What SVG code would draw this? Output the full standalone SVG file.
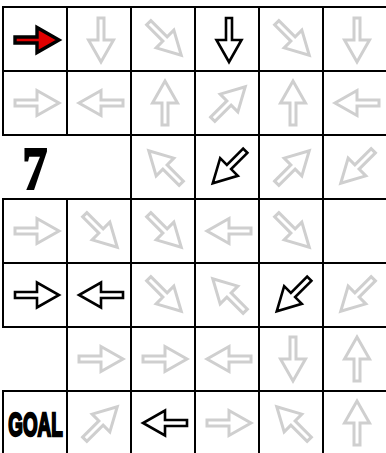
<svg xmlns="http://www.w3.org/2000/svg" xmlns:xlink="http://www.w3.org/1999/xlink" width="386" height="453" viewBox="0 0 386 453">
<style>
.cell{fill:#fff;stroke:#000;stroke-width:2}
.g{fill:#fff;stroke:#cfcfcf;stroke-width:3;stroke-linejoin:miter}
.b{fill:#fff;stroke:#000;stroke-width:2.6;stroke-linejoin:miter}
.r{fill:#e00000;stroke:#000;stroke-width:3.4;stroke-linejoin:miter}
.t7{font-family:"Liberation Serif",serif;font-weight:bold;font-size:62px;fill:#000;stroke:#000;stroke-width:2.2}
.goal{font-family:"Liberation Sans",Arial,sans-serif;font-weight:bold;font-size:33px;fill:#000;stroke:#000;stroke-width:2.4}
</style>
<defs>
<path id="a" d="M-22,-3 H0 V-12.5 L22,0 L0,12.5 V3 H-22 Z"/>
<path id="d" d="M-23,-3 H0 V-12.5 L23,0 L0,12.5 V3 H-23 Z"/>
</defs>
<rect width="386" height="453" fill="#fff"/>
<g id="grid">
<rect class="cell" x="3" y="7" width="64" height="64"/><rect class="cell" x="67" y="7" width="64" height="64"/><rect class="cell" x="131" y="7" width="64" height="64"/><rect class="cell" x="195" y="7" width="64" height="64"/><rect class="cell" x="259" y="7" width="64" height="64"/><rect class="cell" x="323" y="7" width="64" height="64"/>
<rect class="cell" x="3" y="71" width="64" height="64"/><rect class="cell" x="67" y="71" width="64" height="64"/><rect class="cell" x="131" y="71" width="64" height="64"/><rect class="cell" x="195" y="71" width="64" height="64"/><rect class="cell" x="259" y="71" width="64" height="64"/><rect class="cell" x="323" y="71" width="64" height="64"/>
<rect class="cell" x="131" y="135" width="64" height="64"/><rect class="cell" x="195" y="135" width="64" height="64"/><rect class="cell" x="259" y="135" width="64" height="64"/><rect class="cell" x="323" y="135" width="64" height="64"/>
<rect class="cell" x="3" y="199" width="64" height="64"/><rect class="cell" x="67" y="199" width="64" height="64"/><rect class="cell" x="131" y="199" width="64" height="64"/><rect class="cell" x="195" y="199" width="64" height="64"/><rect class="cell" x="259" y="199" width="64" height="64"/><rect class="cell" x="323" y="199" width="64" height="64"/>
<rect class="cell" x="3" y="263" width="64" height="64"/><rect class="cell" x="67" y="263" width="64" height="64"/><rect class="cell" x="131" y="263" width="64" height="64"/><rect class="cell" x="195" y="263" width="64" height="64"/><rect class="cell" x="259" y="263" width="64" height="64"/><rect class="cell" x="323" y="263" width="64" height="64"/>
<rect class="cell" x="67" y="327" width="64" height="64"/><rect class="cell" x="131" y="327" width="64" height="64"/><rect class="cell" x="195" y="327" width="64" height="64"/><rect class="cell" x="259" y="327" width="64" height="64"/><rect class="cell" x="323" y="327" width="64" height="64"/>
<rect class="cell" x="3" y="391" width="64" height="64"/><rect class="cell" x="67" y="391" width="64" height="64"/><rect class="cell" x="131" y="391" width="64" height="64"/><rect class="cell" x="195" y="391" width="64" height="64"/><rect class="cell" x="259" y="391" width="64" height="64"/><rect class="cell" x="323" y="391" width="64" height="64"/>
</g>
<g id="row0">
<use href="#a" class="r" transform="translate(37,40)"/>
<use href="#a" class="g" transform="translate(101,40) rotate(90)"/>
<use href="#d" class="g" transform="translate(165,39) rotate(45)"/>
<use href="#a" class="b" transform="translate(229,40) rotate(90)"/>
<use href="#d" class="g" transform="translate(293,39) rotate(45)"/>
<use href="#a" class="g" transform="translate(357,40) rotate(90)"/>
</g>
<g id="row1">
<use href="#a" class="g" transform="translate(37,103)"/>
<use href="#a" class="g" transform="translate(101,103) rotate(180)"/>
<use href="#a" class="g" transform="translate(165,103) rotate(-90)"/>
<use href="#d" class="g" transform="translate(229,103) rotate(-45)"/>
<use href="#a" class="g" transform="translate(293,103) rotate(-90)"/>
<use href="#a" class="g" transform="translate(357,103) rotate(180)"/>
</g>
<g id="row2">
<g id="label7"><text class="t7" text-anchor="middle" transform="translate(35,189) scale(0.8,1)">7</text></g>
<use href="#d" class="g" transform="translate(165,167) rotate(-135)"/>
<use href="#d" class="b" transform="translate(229,167) rotate(135)"/>
<use href="#d" class="g" transform="translate(293,167) rotate(-45)"/>
<use href="#d" class="g" transform="translate(357,167) rotate(135)"/>
</g>
<g id="row3">
<use href="#a" class="g" transform="translate(37,231)"/>
<use href="#d" class="g" transform="translate(101,231) rotate(45)"/>
<use href="#d" class="g" transform="translate(165,231) rotate(45)"/>
<use href="#a" class="g" transform="translate(229,231) rotate(180)"/>
<use href="#d" class="g" transform="translate(293,231) rotate(45)"/>
</g>
<g id="row4">
<use href="#a" class="b" transform="translate(37,295)"/>
<use href="#a" class="b" transform="translate(101,295) rotate(180)"/>
<use href="#d" class="g" transform="translate(165,295) rotate(45)"/>
<use href="#d" class="g" transform="translate(229,295) rotate(-135)"/>
<use href="#d" class="b" transform="translate(293,295) rotate(135)"/>
<use href="#d" class="g" transform="translate(357,295) rotate(135)"/>
</g>
<g id="row5">
<use href="#a" class="g" transform="translate(101,359)"/>
<use href="#a" class="g" transform="translate(165,359)"/>
<use href="#a" class="g" transform="translate(229,359) rotate(180)"/>
<use href="#a" class="g" transform="translate(293,359) rotate(90)"/>
<use href="#a" class="g" transform="translate(357,359) rotate(-90)"/>
</g>
<g id="row6">
<g id="goal"><text class="goal" text-anchor="middle" transform="translate(35.5,436) scale(0.57,1)">GOAL</text></g>
<use href="#d" class="g" transform="translate(101,423) rotate(-45)"/>
<use href="#a" class="b" transform="translate(165,423) rotate(180)"/>
<use href="#a" class="g" transform="translate(229,423)"/>
<use href="#d" class="g" transform="translate(293,423) rotate(-135)"/>
<use href="#a" class="g" transform="translate(357,423) rotate(-90)"/>
</g>
<g id="connectors"/>
</svg>
